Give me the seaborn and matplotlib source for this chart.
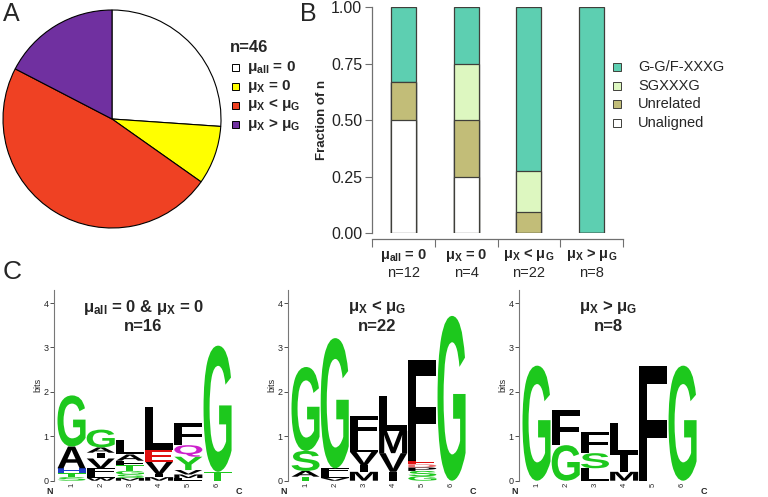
import numpy as np
import pandas as pd
import matplotlib
matplotlib.use("Agg")
import matplotlib.pyplot as plt
import seaborn as sns
from matplotlib.textpath import TextPath
from matplotlib.patches import PathPatch, Rectangle
from matplotlib.font_manager import FontProperties
from matplotlib.transforms import Affine2D, blended_transform_factory

# ---------------- data ----------------
group_labels = ["μ$_{all}$ = 0", "μ$_{X}$ = 0", "μ$_{X}$ < μ$_{G}$", "μ$_{X}$ > μ$_{G}$"]
group_n = [12, 4, 22, 8]
pie_total = 46
pie_colors = ["#FFFFFF", "#FFFF00", "#EF4123", "#7030A0"]

motif_classes = ["G-G/F-XXXG", "SGXXXG", "Unrelated", "Unaligned"]
gg_counts = [4, 1, 16, 8]
sg_counts = [0, 1, 4, 0]
unrelated_counts = [2, 1, 2, 0]
unaligned_counts = [6, 1, 0, 0]
motif_colors = ["#5DCFB1", "#DDF7C0", "#C2BD78", "#FFFFFF"]
yticks_b = [0.0, 0.25, 0.50, 0.75, 1.00]

logo_titles = ["μ$_{all}$ = 0 & μ$_{X}$ = 0", "μ$_{X}$ < μ$_{G}$", "μ$_{X}$ > μ$_{G}$"]
logo_n = [16, 22, 8]
positions = [1, 2, 3, 4, 5, 6]

# letters per column, bottom to top, with heights in bits
logo1_letters = [["S", "T", "H", "A", "G"],
                 ["W", "L", "F", "V", "I", "A", "G"],
                 ["M", "S", "G", "T", "F", "A", "L"],
                 ["M", "I", "V", "E", "L"],
                 ["L", "M", "V", "Y", "Q", "F"],
                 ["T", "G"]]
logo1_heights = [[0.08, 0.09, 0.11, 0.49, 1.15],
                 [0.06, 0.10, 0.12, 0.22, 0.13, 0.12, 0.40],
                 [0.06, 0.08, 0.08, 0.13, 0.10, 0.14, 0.33],
                 [0.08, 0.07, 0.28, 0.26, 0.98],
                 [0.06, 0.08, 0.10, 0.30, 0.26, 0.49],
                 [0.20, 2.84]]

logo2_letters = [["T", "A", "S", "G"],
                 ["V", "L", "F", "G"],
                 ["M", "I", "V", "L", "F"],
                 ["I", "V", "M", "L"],
                 ["G", "S", "P", "D", "E", "F"],
                 ["G"]]
logo2_heights = [[0.09, 0.13, 0.45, 1.89],
                 [0.06, 0.12, 0.10, 2.93],
                 [0.20, 0.15, 0.30, 0.27, 0.53],
                 [0.20, 0.42, 0.50, 0.78],
                 [0.10, 0.12, 0.08, 0.07, 0.08, 2.27],
                 [3.71]]

logo3_letters = [["G"],
                 ["G", "F"],
                 ["L", "S", "F"],
                 ["M", "I", "L"],
                 ["F"],
                 ["G"]]
logo3_heights = [[2.59],
                 [0.80, 0.79],
                 [0.28, 0.34, 0.48],
                 [0.20, 0.38, 0.71],
                 [2.59],
                 [2.59]]

letter_colors = {"G": "#1DC81D", "S": "#1DC81D", "T": "#1DC81D", "Y": "#1DC81D", "C": "#1DC81D",
                 "Q": "#CC1FCC", "N": "#CC1FCC",
                 "H": "#1F3FC8", "K": "#1F3FC8", "R": "#1F3FC8",
                 "D": "#E86A6A", "E": "#E01010"}

# ---------------- style ----------------
sns.set_style("white")
plt.rcParams["font.family"] = ["Liberation Sans", "DejaVu Sans"]
plt.rcParams["mathtext.fontset"] = "custom"
plt.rcParams["mathtext.rm"] = "Liberation Sans"
plt.rcParams["mathtext.bf"] = "Liberation Sans:bold"
plt.rcParams["mathtext.it"] = "Liberation Sans:italic"
plt.rcParams["mathtext.default"] = "bf"

W, H = 768, 497
fig = plt.figure(figsize=(W / 100, H / 100), dpi=100)


def fx(px):
    return px / W


def fy(py):
    return 1 - py / H


# ---------------- panel A: pie ----------------
cx, cy, r = 112, 119, 109
half = r * 1.02
axA = fig.add_axes([fx(cx - half), fy(cy + half), 2 * half / W, 2 * half / H])
axA.pie(group_n, colors=pie_colors, startangle=90, counterclock=False,
        wedgeprops=dict(edgecolor="black", linewidth=0.8))
axA.set_xlim(-1.02, 1.02)
axA.set_ylim(-1.02, 1.02)
axA.set_aspect("equal")
axA.axis("off")

fig.text(fx(230), fy(48), f"n={pie_total}", fontsize=12, fontweight="bold", va="center", ha="left")
for i, (lab, col) in enumerate(zip(group_labels, pie_colors)):
    yc = 67 + i * 19.2
    fig.patches.append(Rectangle((fx(232), fy(yc + 3.5)), 7 / W, 7 / H, transform=fig.transFigure,
                                 facecolor=col, edgecolor="black", linewidth=0.7))
    fig.text(fx(247), fy(yc), lab, fontsize=11, fontweight="bold", va="center", ha="left")

fig.text(fx(3), fy(14), "A", fontsize=18, va="center", ha="left")
fig.text(fx(300), fy(14), "B", fontsize=18, va="center", ha="left")
fig.text(fx(3), fy(272), "C", fontsize=19, va="center", ha="left")

# ---------------- panel B: stacked bars ----------------
axB = fig.add_axes([fx(372), fy(233), 251 / W, 226 / H])
n_arr = np.array(group_n, dtype=float)
layers = [np.array(gg_counts), np.array(sg_counts), np.array(unrelated_counts), np.array(unaligned_counts)]
fractions = [l / n_arr for l in layers]
keys = [f"g{i}" for i in range(len(group_n))]
for k in range(len(layers)):
    top = np.sum(fractions[k:], axis=0)
    df = pd.DataFrame({"group": keys, "frac": top})
    sns.barplot(data=df, x="group", y="frac", order=keys, color=motif_colors[k], saturation=1,
                width=0.4, edgecolor="#3f3f3a", linewidth=0.9, errorbar=None, ax=axB)
axB.set_xlim(-0.5, 3.5)
axB.set_ylim(0, 1)
axB.set_xticks(np.arange(-0.5, 4.0, 1.0))
axB.set_xticklabels([])
axB.set_yticks(yticks_b)
axB.set_yticklabels([f"{v:.2f}" for v in yticks_b])
axB.set_xlabel("")
axB.set_ylabel("Fraction of n", fontsize=9.5, fontweight="bold")
axB.yaxis.set_label_coords((328 - 372) / 251, 0.5)
for s in ["top", "right"]:
    axB.spines[s].set_visible(False)
for s in ["left", "bottom"]:
    axB.spines[s].set_color("#707070")
    axB.spines[s].set_linewidth(0.9)
axB.spines["bottom"].set_position(("outward", 4))
axB.tick_params(axis="y", direction="out", length=5, width=0.8, color="#707070",
                labelsize=11.5, labelcolor="#222222", pad=2, left=True)
axB.tick_params(axis="x", direction="out", length=6, width=0.8, color="#707070", bottom=True)
tr = blended_transform_factory(axB.transData, axB.transAxes)
for i, (lab, n) in enumerate(zip(group_labels, group_n)):
    axB.text(i, (233 - 255) / 226, lab, transform=tr, ha="center", va="center",
             fontsize=10.5, fontweight="bold")
    axB.text(i, (233 - 273) / 226, f"n={n}", transform=tr, ha="center", va="center", fontsize=10.5)

for i, (lab, col) in enumerate(zip(motif_classes, motif_colors)):
    yc = 67 + i * 18.5
    fig.patches.append(Rectangle((fx(613), fy(yc + 4)), 8 / W, 8 / H, transform=fig.transFigure,
                                 facecolor=col, edgecolor="#3f3f3a", linewidth=0.7))
    fig.text(fx(638), fy(yc), lab, fontsize=10.5, va="center", ha="left")

# ---------------- panel C: sequence logos ----------------
FP = FontProperties(family="Liberation Sans", weight="bold")


def draw_letter(ax, ch, x, y, w, h, color):
    tp = TextPath((0, 0), ch, size=1, prop=FP)
    bb = tp.get_extents()
    if ch == "I":
        x, w = x + w * 0.36, w * 0.28
    t = Affine2D().translate(-bb.x0, -bb.y0).scale(w / bb.width, h / bb.height).translate(x, y)
    ax.add_patch(PathPatch(t.transform_path(tp), facecolor=color, edgecolor="none"))


logo_letters = [logo1_letters, logo2_letters, logo3_letters]
logo_heights = [logo1_heights, logo2_heights, logo3_heights]
logo_lefts = [54, 288, 519]
for k in range(3):
    ax = fig.add_axes([fx(logo_lefts[k]), fy(480.7), 184 / W, 191 / H])
    ax.set_xlim(0.4, 6.7)
    ax.set_ylim(0, 4.3)
    for j, pos in enumerate(positions):
        y = 0.0
        for ch, h in zip(logo_letters[k][j], logo_heights[k][j]):
            draw_letter(ax, ch, pos - 0.48, y, 0.96, h, letter_colors.get(ch, "#000000"))
            y += h
        ax.text(pos, -0.04, str(pos), rotation=90, ha="center", va="top", fontsize=5.5)
    ax.text(0.26, -0.25, "N", ha="center", va="center", fontsize=6.5, fontweight="bold")
    ax.text(6.72, -0.25, "C", ha="center", va="center", fontsize=6.5, fontweight="bold")
    ax.text(3.45, 3.9, logo_titles[k], ha="center", va="center", fontsize=12, fontweight="bold")
    ax.text(3.45, 3.47, f"n={logo_n[k]}", ha="center", va="center", fontsize=12, fontweight="bold")
    ax.set_xticks([])
    ax.set_yticks(range(5))
    ax.tick_params(axis="y", direction="out", length=3, width=0.6, labelsize=6.5, pad=1,
                   left=True, color="#333333")
    ax.set_ylabel("bits", fontsize=6.5, labelpad=1)
    for s in ["top", "right", "bottom"]:
        ax.spines[s].set_visible(False)
    ax.spines["left"].set_color("#777777")
    ax.spines["left"].set_linewidth(0.8)
    ax.patch.set_alpha(0)

fig.savefig("out.png", dpi=100)
